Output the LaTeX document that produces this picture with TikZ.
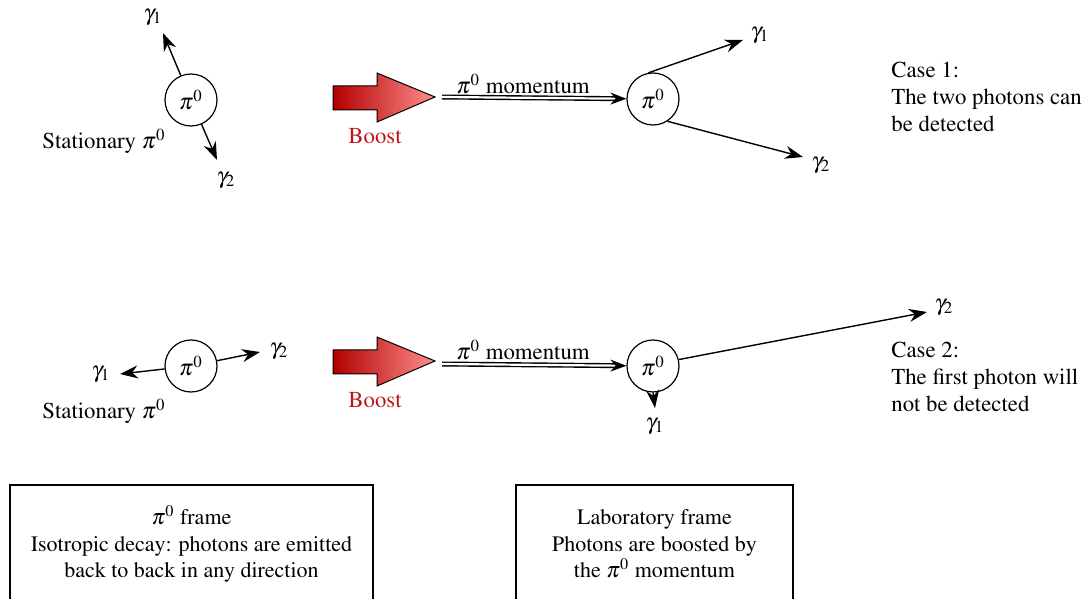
\documentclass[tikz,border=0pt]{standalone}
\usepackage[T1]{fontenc}
\usepackage{mathptmx}
\usetikzlibrary{arrows.meta}

\newcommand\pizero{$\pi^0$}
\newcommand\gam[1]{$\gamma_{#1}$}
\definecolor{boostred}{RGB}{190,20,25}

\begin{document}
\begin{tikzpicture}[x=0.5pt,y=-0.5pt,
  font=\fontsize{11.4}{13.5}\selectfont,
  particle/.style={circle,draw,line width=0.6pt,minimum size=26pt,inner sep=0pt},
  photon/.style={-{Stealth[length=9pt,width=6.5pt]},line width=0.7pt},
  mom/.style={double,double distance=1.1pt,line width=0.7pt,-{Stealth[length=8pt,width=6pt]}},
  boost/.style={draw=black,line width=0.5pt,left color=red!70!black,right color=red!45!white},
  boosttext/.style={text=boostred},
  casetext/.style={align=left,anchor=north west,inner sep=0pt},
  framebox/.style={draw,line width=0.6pt,align=center,minimum height=59pt,inner sep=0pt,
    font=\fontsize{11}{13.2}\selectfont}
]
\useasboundingbox (0,0) rectangle (1089,599);

% ---------- upper row: decay seen in the pion frame ----------
\node[particle] (a) at (191,100) {\pizero};
\coordinate (a1) at (163,33);
\coordinate (a2) at (217,160);
\draw[photon] (a) -- (a1);
\draw[photon] (a) -- (a2);
\node (ga1) at (153,17) {\gam1};
\node (ga2) at (226,180) {\gam2};
\node (sa) at (104,141) {Stationary \pizero};

% boost arrow
\path[boost] (333,86) -- (377,86) -- (377,73) -- (435,97) -- (377,122) -- (377,110) -- (333,110) -- cycle;
\node[boosttext] (ba) at (375,136) {Boost};

% laboratory frame
\node[particle] (b) at (653,99) {\pizero};
\coordinate (ms1) at (442,97);
\draw[mom] (ms1) -- (b);
\node (ml1) at (523,84) {\pizero{} momentum};
\coordinate (b1) at (743,40);
\coordinate (b2) at (803,157);
\draw[photon] (b.100) -- (b1);
\draw[photon] (b.-57) -- (b2);
\node (gb1) at (760,35) {\gam1};
\node (gb2) at (821,165) {\gam2};
\node[casetext] (case1) at (891,62) {Case 1:\\The two photons can\\be detected};

% ---------- lower row ----------
\node[particle] (c) at (191,366) {\pizero};
\coordinate (c1) at (120,374);
\coordinate (c2) at (260,352);
\draw[photon] (c) -- (c1);
\draw[photon] (c) -- (c2);
\node (gc1) at (101,374) {\gam1};
\node (gc2) at (279,351) {\gam2};
\node (sc) at (104,411) {Stationary \pizero};

\path[boost] (333,350) -- (377,350) -- (377,337) -- (435,361) -- (377,386) -- (377,374) -- (333,374) -- cycle;
\node[boosttext] (bc) at (375,400) {Boost};

\node[particle] (d) at (653,366) {\pizero};
\coordinate (ms2) at (442,364);
\draw[mom] (ms2) -- (d);
\node (ml2) at (523,350) {\pizero{} momentum};
\coordinate (d1) at (655,408);
\coordinate (d2) at (927,312);
\draw[photon] (d.south) -- (d1);
\draw[photon] (d.14) -- (d2);
\node (gd1) at (655,426) {\gam1};
\node (gd2) at (944,307) {\gam2};
\node[casetext] (case2) at (891,342) {Case 2:\\The first photon will\\not be detected};

% ---------- frame descriptions ----------
\node[framebox,minimum width=181.5pt] (fa) at (191.5,544) {\pizero{} frame\\Isotropic decay: photons are emitted\\back to back in any direction};
\node[framebox,minimum width=138.5pt] (fb) at (654.5,544) {Laboratory frame\\Photons are boosted by\\the \pizero{} momentum};
\end{tikzpicture}
\end{document}
